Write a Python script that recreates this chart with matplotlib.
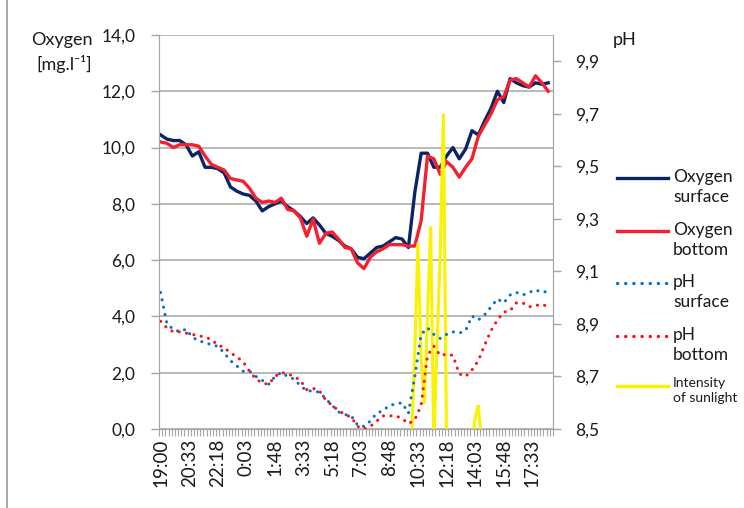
import matplotlib.pyplot as plt
import numpy as np
from matplotlib.lines import Line2D

plt.rcParams['font.family'] = ['Lato', 'DejaVu Sans']
plt.rcParams['font.size'] = 11

# time axis: one category per reading slot, labelled every 9th slot
n_cat = 124
time_labels = ['19:00', '20:33', '22:18', '0:03', '1:48', '3:33', '5:18',
               '7:03', '8:48', '10:33', '12:18', '14:03', '15:48', '17:33']

# oxygen [mg/l], read every second slot
oxy_surface = [10.45, 10.3, 10.25, 10.25, 10.1, 9.7, 9.85, 9.3, 9.3, 9.25,
               9.1, 8.6, 8.45, 8.35, 8.3, 8.1, 7.75, 7.9, 8.0, 8.1,
               7.9, 7.75, 7.55, 7.3, 7.5, 7.25, 6.95, 6.85, 6.7, 6.5,
               6.4, 6.1, 6.05, 6.25, 6.45, 6.5, 6.65, 6.8, 6.75, 6.45,
               8.4, 9.8, 9.8, 9.3, 9.3, 9.7, 10.0, 9.6, 9.95, 10.6,
               10.45, 10.95, 11.4, 12.0, 11.6, 12.45, 12.3, 12.2, 12.15, 12.3,
               12.25, 12.3]
oxy_bottom = [10.2, 10.15, 10.0, 10.1, 10.1, 10.1, 10.05, 9.7, 9.4, 9.3,
              9.2, 8.9, 8.85, 8.8, 8.55, 8.2, 8.05, 8.1, 8.05, 8.2,
              7.8, 7.75, 7.5, 6.85, 7.45, 6.6, 6.95, 7.0, 6.75, 6.45,
              6.4, 5.9, 5.7, 6.1, 6.3, 6.4, 6.55, 6.55, 6.55, 6.5,
              6.5, 7.4, 9.7, 9.6, 9.05, 9.5, 9.3, 8.95, 9.3, 9.6,
              10.4, 10.8, 11.2, 11.7, 11.8, 12.4, 12.45, 12.3, 12.15, 12.55,
              12.3, 12.0]

# pH, same slots
ph_surface = [9.02, 8.90, 8.88, 8.87, 8.88, 8.85, 8.835, 8.83, 8.82, 8.815,
              8.79, 8.76, 8.74, 8.72, 8.72, 8.70, 8.685, 8.67, 8.70, 8.715,
              8.70, 8.69, 8.665, 8.645, 8.645, 8.64, 8.615, 8.59, 8.565, 8.555,
              8.55, 8.515, 8.51, 8.53, 8.56, 8.57, 8.59, 8.595, 8.60, 8.56,
              8.70, 8.86, 8.885, 8.86, 8.845, 8.86, 8.87, 8.865, 8.875, 8.93,
              8.915, 8.935, 8.965, 8.995, 8.98, 9.01, 9.02, 9.01, 9.02, 9.03,
              9.02, 9.025]
ph_bottom = [8.91, 8.885, 8.87, 8.87, 8.865, 8.86, 8.855, 8.85, 8.84, 8.82,
             8.81, 8.79, 8.775, 8.755, 8.72, 8.69, 8.675, 8.67, 8.70, 8.715,
             8.71, 8.70, 8.685, 8.65, 8.655, 8.645, 8.61, 8.59, 8.57, 8.555,
             8.545, 8.51, 8.50, 8.51, 8.53, 8.55, 8.55, 8.55, 8.54, 8.52,
             8.535, 8.59, 8.78, 8.815, 8.78, 8.785, 8.78, 8.71, 8.70, 8.725,
             8.76, 8.82, 8.875, 8.915, 8.945, 8.95, 8.98, 8.98, 8.965, 8.97,
             8.975, 8.965]

# sunlight intensity (relative units), slots 78..102
sun_start = 78
sunlight = [0, 0, 3.3, 7.1, 3.0, 1.4, 4.5, 7.7, 0, 3.5,
            6.7, 11.7, 0, 0, 0, 0, 0, 0, 0, 0,
            0, 0.9, 1.35, 0, 0]

x2 = np.arange(0, n_cat, 2)
xs = np.arange(sun_start, sun_start + len(sunlight))

navy = '#0b2465'
red = '#f5202e'
blue = '#0a70c4'
red2 = '#ff1010'
yellow = '#f9f200'
grid = '#a6a6a6'
txt = '#1a1a1a'

fig = plt.figure(figsize=(7.44, 5.08), dpi=100)
ax1 = fig.add_axes([159/744, 1-429/508, 394/744, 394/508])
ax1.set_xlim(-0.5, n_cat - 0.5)
ax1.set_ylim(0, 14)
oxy_ticks = np.arange(0, 14.1, 2)
ax1.set_yticks(oxy_ticks)
ax1.set_yticklabels([('%.1f' % v).replace('.', ',') for v in oxy_ticks])
ax1.grid(axis='y', color=grid, lw=1.1)
ax1.set_axisbelow(True)
for s in ['left', 'bottom', 'right']:
    ax1.spines[s].set_color(grid)
ax1.spines['top'].set_visible(False)
ax1.tick_params(axis='y', length=6, width=1, color=grid, pad=11, labelsize=12.5, labelcolor=txt)

ax1.set_xticks(np.arange(0, 118, 9))
ax1.set_xticklabels(time_labels, rotation=90)
ax1.set_xticks(np.arange(-0.5, n_cat, 1), minor=True)
ax1.tick_params(axis='x', which='major', length=0, pad=7, labelsize=13.5, labelcolor=txt)
ax1.tick_params(axis='x', which='minor', length=5, width=0.8, color=grid)

ax1.plot(x2, oxy_surface, color=navy, lw=2.4, zorder=3)
ax1.plot(x2, oxy_bottom, color=red, lw=2.4, zorder=4)

# sunlight on its own hidden scale
ax3 = ax1.twinx()
ax3.set_ylim(0.5, 14.5)
ax3.axis('off')
ax3.plot(xs, sunlight, color=yellow, lw=2.2, solid_joinstyle='miter')

ax2 = ax1.twinx()
ax2.set_ylim(8.5, 10.0)
ph_ticks = np.arange(8.5, 9.95, 0.2)
ax2.set_yticks(ph_ticks)
ax2.set_yticklabels([('%.1f' % v).replace('.', ',') for v in ph_ticks])
for s in ['left', 'bottom', 'right']:
    ax2.spines[s].set_color(grid)
ax2.spines['top'].set_visible(False)
ax2.tick_params(axis='y', length=6, width=1, color=grid, pad=10, labelsize=12.5, labelcolor=txt)
dots = (0, (0.05, 2.4))
ax2.plot(x2, ph_surface, color=blue, lw=2.2, ls=dots, dash_capstyle='round')
ax2.plot(x2, ph_bottom, color=red2, lw=2.2, ls=dots, dash_capstyle='round')

# axis titles
fig.text(62/744, 1-40/508, 'Oxygen', ha='center', va='center', fontsize=13, color=txt)
fig.text(64/744, 1-64/508, '[mg.l\u207b\u00b9]', ha='center', va='center', fontsize=13, color=txt)
fig.text(625/744, 1-40/508, 'pH', ha='center', va='center', fontsize=13, color=txt)

# legend
entries = [(navy, '-', 'Oxygen\nsurface', 12.5, 178),
           (red, '-', 'Oxygen\nbottom', 12.5, 231),
           (blue, dots, 'pH\nsurface', 12.5, 283),
           (red2, dots, 'pH\nbottom', 12.5, 336),
           (yellow, '-', 'Intensity\nof sunlight', 10, 386)]
for col, ls, lab, fs, yy in entries:
    fig.add_artist(Line2D([617/744, 668/744], [1-yy/508, 1-yy/508], color=col,
                          lw=2.4, ls=ls, dash_capstyle='round'))
    fig.text(673/744, 1-(yy-9)/508, lab, ha='left', va='top', fontsize=fs,
             color=txt, linespacing=1.3)

# chart frame edge
fig.add_artist(Line2D([7/744, 7/744], [0, 1], color='#9a9a9a', lw=1.2))

plt.savefig('out.png', dpi=100)
